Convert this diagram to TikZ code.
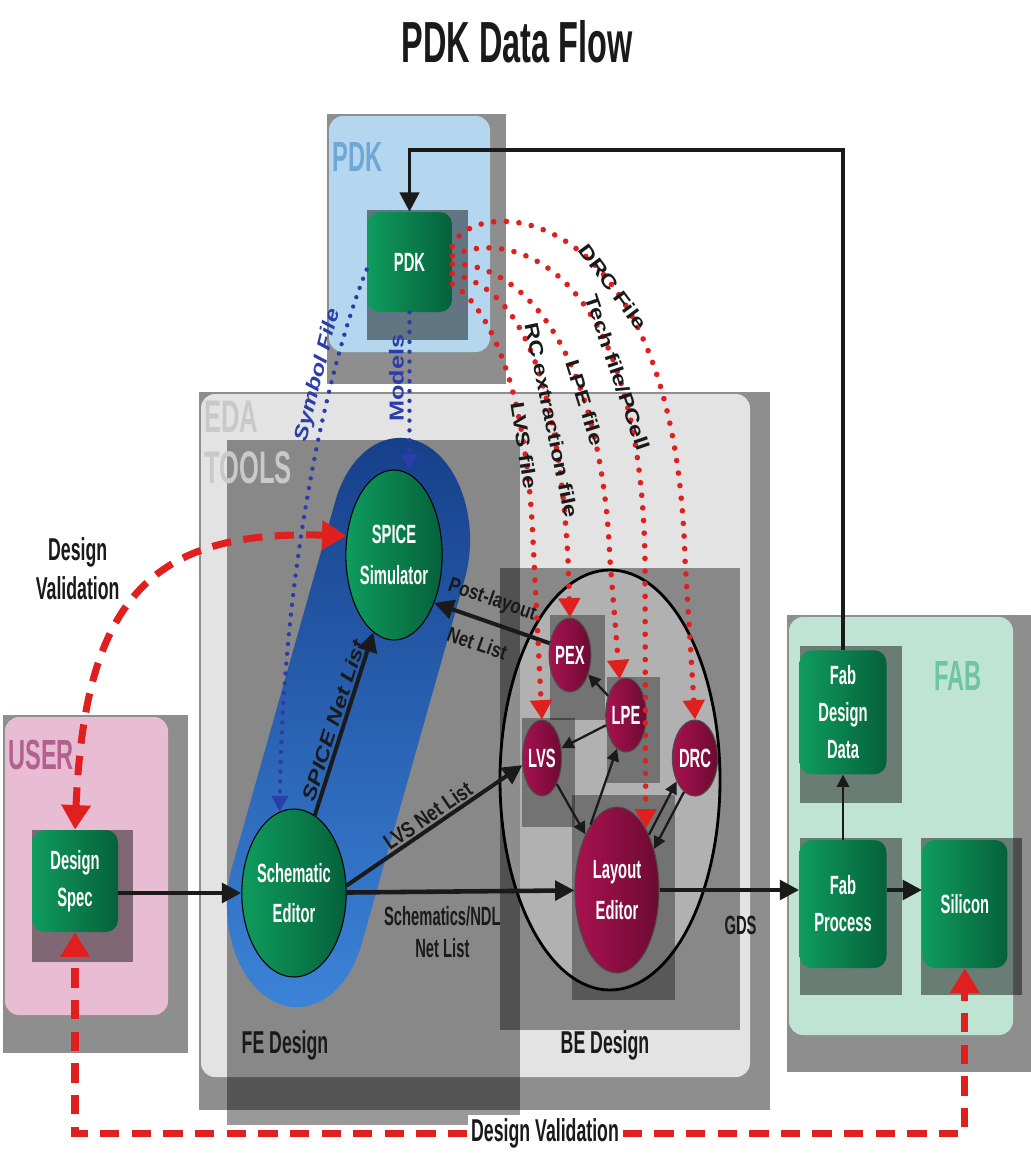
\documentclass[tikz,border=0pt]{standalone}
\usepackage{fontspec}
\setmainfont{Liberation Sans}[FakeStretch=0.56]
\newfontfamily\slopefont{Liberation Sans}[FakeStretch=1.25]
\newfontfamily\tiltfont{Liberation Sans}[FakeStretch=0.8]
\usepackage{xcolor}
\usepackage{tikz}
\usetikzlibrary{shapes.geometric, arrows.meta, positioning, calc}

\definecolor{pdkblue}{HTML}{B4D6EE}
\definecolor{userpink}{HTML}{E8BDD3}
\definecolor{fabmint}{HTML}{C0E4D4}
\definecolor{edagray}{HTML}{E3E3E3}
\definecolor{outergray}{HTML}{8E8E8E}
\definecolor{greenL}{HTML}{0F9C5E}
\definecolor{greenR}{HTML}{05613B}
\definecolor{maroonL}{HTML}{A8124F}
\definecolor{maroonR}{HTML}{6C0A32}
\definecolor{pilltop}{HTML}{163E88}
\definecolor{pillbot}{HTML}{3C85DA}
\definecolor{filered}{HTML}{E0201F}
\definecolor{symblue}{HTML}{2B3DA8}
\definecolor{lineblack}{HTML}{1A1A1A}
\definecolor{pdklbl}{HTML}{6FA8D6}
\definecolor{userlbl}{HTML}{B2618E}
\definecolor{fablbl}{HTML}{6DC5A1}
\definecolor{edalbl}{HTML}{C9C9C9}

\begin{document}
\begin{tikzpicture}[
        x=0.02cm, y=-0.02cm,
        wh/.style 2 args={minimum width=#1*0.02cm, minimum height=#2*0.02cm},
        green_block/.style={rectangle, rounded corners=7pt, left color=greenL, right color=greenR, text=white,
                            align=center, inner sep=0pt, font=\fontsize{15}{21}\selectfont\bfseries},
        green_oval/.style={ellipse, draw=black, line width=0.6pt, left color=greenL, right color=greenR, text=white,
                           align=center, inner sep=0pt, font=\fontsize{15}{23}\selectfont\bfseries},
        red_oval/.style={ellipse, draw=black!70, line width=0.6pt, left color=maroonL, right color=maroonR, text=white,
                         align=center, inner sep=0pt, font=\fontsize{15}{23}\selectfont\bfseries},
        node_shadow/.style={fill=black, fill opacity=0.45},
        area_shadow/.style={fill=black, fill opacity=0.4},
        sub_shadow/.style={fill=black, fill opacity=0.35},
        flow_bus/.style={->, >={Triangle[length=11pt, width=11pt]}, line width=2.6pt, draw=lineblack},
        thin_bus/.style={->, >={Triangle[length=7pt, width=7pt]}, line width=1.3pt, draw=lineblack},
        file_link/.style={->, >={Triangle[length=11pt, width=12pt]}, draw=filered, line width=3.2pt,
                          line cap=round, dash pattern=on 0pt off 7.2pt},
        sym_link/.style={->, >={Triangle[length=9pt, width=9pt]}, draw=symblue, line width=2.5pt,
                         line cap=round, dash pattern=on 0pt off 5.6pt},
        valid_link/.style={->, >={Triangle[length=14pt, width=16pt]}, draw=filered, line width=4pt,
                           dash pattern=on 11pt off 7pt},
        lbl/.style={font=\fontsize{15}{18}\selectfont\bfseries, text=lineblack},
        tilt_lbl/.style={font=\tiltfont\fontsize{12}{25}\selectfont\bfseries, text=lineblack, inner sep=1pt},
        file_lbl/.style={font=\slopefont\fontsize{11}{13}\selectfont\bfseries, text=lineblack, inner sep=1pt},
        sym_lbl/.style={font=\slopefont\fontsize{11}{13}\selectfont\bfseries\itshape, text=symblue, inner sep=2pt},
        area_lbl/.style={font=\fontsize{24}{27}\selectfont\bfseries, inner sep=0pt},
        design_lbl/.style={font=\fontsize{18}{22}\selectfont\bfseries, text=lineblack}
    ]
    \useasboundingbox (0,0) rectangle (1031,1153);

    \node[font=\fontsize{33}{36}\selectfont\bfseries, text=lineblack] (title) at (517,42) {PDK Data Flow};

    \fill[outergray] (327,114) rectangle (506,384);
    \fill[pdkblue, rounded corners=8pt] (329,116) rectangle (490,352);
    \node[area_lbl, text=pdklbl, anchor=west] (pdk_area) at (332,157) {PDK};

    \fill[outergray] (199,392) rectangle (770,1110);
    \fill[edagray, rounded corners=8pt] (201,394) rectangle (750,1077);

    \fill[outergray] (3,715) rectangle (188,1053);
    \fill[userpink, rounded corners=8pt] (5,717) rectangle (168,1015);
    \node[area_lbl, text=userlbl, anchor=west] (user_area) at (8,755) {USER};

    \fill[outergray] (787,615) rectangle (1031,1072);
    \fill[fabmint, rounded corners=8pt] (789,617) rectangle (1013,1035);
    \node[area_lbl, text=fablbl] (fab_area) at (958,676) {FAB};

    \fill[area_shadow] (227,440) rectangle (520,1125);
    \fill[area_shadow] (500,568) rectangle (740,1030);
    \draw[line width=1.6pt, fill=white, fill opacity=0.35] (610,780) ellipse [x radius=110, y radius=210];
    \fill[sub_shadow] (550,615) rectangle (605,720);
    \fill[sub_shadow] (522,718) rectangle (575,827);
    \fill[sub_shadow] (607,677) rectangle (660,783);
    \fill[sub_shadow] (572,795) rectangle (675,1000);

    \node[area_lbl, text=edalbl, anchor=north west, align=left, font=\fontsize{26}{29}\selectfont\bfseries] (eda_area) at (204,401) {EDA\\TOOLS};

    \shade[top color=pilltop, bottom color=pillbot] (335.3,501.2) arc[start angle=202.3, end angle=382.3, x radius=70, y radius=102]
        -- (361.7,943.8) arc[start angle=22.3, end angle=202.3, x radius=70, y radius=102] -- cycle;

    \fill[node_shadow] (367,210) rectangle (468,340);
    \fill[node_shadow] (32,830) rectangle (133,962);
    \fill[node_shadow] (800,646) rectangle (902,803);
    \fill[node_shadow] (800,838) rectangle (902,995);
    \fill[node_shadow] (921,838) rectangle (1022,995);

    \node[green_block, wh={85}{100}] (pdk) at (409.5,262) {PDK};
    \node[green_block, wh={86}{102}] (spec) at (75,881) {Design\\Spec};
    \node[green_block, wh={87}{128}] (fabproc) at (843,904) {Fab\\Process};
    \node[green_block, wh={87}{124}, above=37pt of fabproc] (fabdata) {Fab\\Design\\Data};
    \node[green_block, wh={85}{128}, right=20pt of fabproc] (silicon) {Silicon};
    \node[green_oval, wh={88}{170}] (spice) at (394,555) {SPICE\\Simulator};
    \node[green_oval, wh={88}{168}] (sch) at (294,893) {Schematic\\Editor};
    \node[red_oval, wh={36}{74}] (pex) at (570,655) {PEX};
    \node[red_oval, wh={34}{74}] (lpe) at (626,715) {LPE};
    \node[red_oval, wh={36}{76}] (lvs) at (542,758) {LVS};
    \node[red_oval, wh={36}{76}] (drc) at (695,758) {DRC};
    \node[red_oval, wh={84}{166}] (lay) at (617,890) {Layout\\Editor};

    \node[design_lbl] (fe_lbl) at (285,1045) {FE Design};
    \node[design_lbl] (be_lbl) at (605,1045) {BE Design};
    \node[design_lbl, fill=white, inner sep=2pt] (dv_lbl) at (545,1133) {Design Validation};

    \draw[flow_bus] (spec.east |- sch.west) -- (sch.west);
    \draw[flow_bus] (sch) -- node[below, pos=0.42, lbl, align=center, yshift=-4pt] {Schematics/NDL\\Net List} (lay);
    \draw[flow_bus] (lay) -- node[below=10pt, pos=0.58, lbl] {GDS} (lay -| fabproc.west);
    \draw[flow_bus] (fabproc.east |- lay) -- (silicon.west |- lay);
    \draw[thin_bus] (fabproc.north) -- (fabdata.south);
    \draw[flow_bus, line width=2pt] (fabdata.north) |- ([yshift=35pt]pdk.north) -- (pdk.north);
    \draw[flow_bus, line width=2.3pt] (sch.75) -- node[sloped, above, file_lbl, font=\slopefont\fontsize{11}{13}\selectfont\bfseries\itshape] {SPICE Net List} (spice.-105);
    \draw[flow_bus, line width=2.3pt] (sch.8) -- node[sloped, above, tilt_lbl, font=\tiltfont\fontsize{12.5}{15}\selectfont\bfseries] {LVS Net List} (lvs.200);
    \draw[flow_bus, line width=2.3pt] (pex.150) -- node[sloped, tilt_lbl, align=center, pos=0.56, font=\tiltfont\fontsize{12}{27}\selectfont\bfseries] {Post-layout\\Net List} (spice.-50);

    \draw[thin_bus] (lpe) -- (pex);
    \draw[thin_bus] (lpe) -- (lvs);
    \draw[thin_bus] (lvs) -- (lay);
    \draw[thin_bus] (lay.112) -- (lpe.255);
    \draw[thin_bus] (lay.60) -- (drc.232);
    \draw[thin_bus] (drc.252) -- (lay.48);

    \draw[file_link] (pdk.20) .. controls (470,195) and (675,190) .. (685,560) node[file_lbl, sloped, pos=0.63] {DRC File} -- (drc.north);
    \draw[file_link] (pdk.8) .. controls (500,230) and (640,250) .. (645,560) node[file_lbl, sloped, pos=0.74] {Tech file/PCell} -- (lay.65);
    \draw[file_link] (pdk.-3) .. controls (510,262) and (600,330) .. (610,560) node[file_lbl, sloped, pos=0.72] {LPE file} -- (lpe.100);
    \draw[file_link] (pdk.-15) .. controls (495,285) and (555,320) .. (568,560) node[file_lbl, sloped, pos=0.76] {RC extraction file} -- (pex.north);
    \draw[file_link] (pdk.-27) .. controls (478,300) and (525,360) .. (533,540) node[file_lbl, sloped, pos=0.8] {LVS file} -- (lvs.north);

    \draw[sym_link] (pdk.190) .. controls (330,360) and (283,560) .. (sch.100) node[sym_lbl, sloped, above, pos=0.3] {Symbol File};
    \draw[sym_link] (pdk.south) -- node[sym_lbl, pos=0.42, rotate=90, anchor=south, font=\slopefont\fontsize{11.5}{13}\selectfont\bfseries] {Models} (pdk.south |- spice.north);

    \draw[valid_link, <->] (spec.north) .. controls (85,600) and (150,530) .. (spice.158) node[design_lbl, pos=0.45, above left, align=center] {Design\\Validation};
    \draw[valid_link] (dv_lbl.west) -| (spec.south);
    \draw[valid_link] (dv_lbl.east) -| (silicon.south);
\end{tikzpicture}
\end{document}
